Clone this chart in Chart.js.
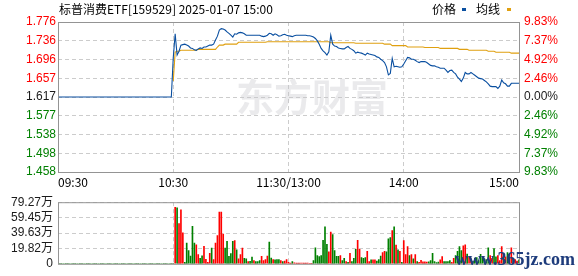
<!DOCTYPE html>
<html><head><meta charset="utf-8">
<script src="https://cdn.jsdelivr.net/npm/chart.js@4"></script>
<style>
html,body{margin:0;padding:0;background:#fff;}
#wrap{position:relative;width:578px;height:276px;overflow:hidden;background:#fff;}
canvas{position:absolute;left:0;}
#c1{top:0}
#c2{top:190px}
</style></head><body>
<div id="wrap"><canvas id="c1" width="578" height="190"></canvas><canvas id="c2" width="578" height="86"></canvas></div>
<script>
// ---------- data ----------
const titleText = '标普消费ETF[159529] 2025-01-07 15:00';
const seriesNames = ['价格', '均线'];
const prevClose = 1.617;
const priceMin = 1.458, priceMax = 1.776;
const volMax = 79.27;
const priceTickLabels = ['1.776','1.736','1.696','1.657','1.617','1.577','1.538','1.498','1.458']; // top -> bottom
const pctTickLabels = ['9.83%','7.37%','4.92%','2.46%','0.00%','2.46%','4.92%','7.37%','9.83%'];   // top -> bottom
const volTickLabels = ['79.27万','59.45万','39.63万','19.82万','0'];                                  // top -> bottom
const xTickIndex = [0, 60, 120, 180, 240];
const xTickLabels = ['09:30', '10:30', '11:30/13:00', '14:00', '15:00'];

const times = [];
(function(){
  const f = m => String(Math.floor(m/60)).padStart(2,'0') + ':' + String(m%60).padStart(2,'0');
  for (let m = 9*60+30; m <= 11*60+30; m++) times.push(f(m));
  for (let m = 13*60+1; m <= 15*60; m++) times.push(f(m));
})();

const price = [
1.617,1.617,1.617,1.617,1.617,1.617,1.617,1.617,1.617,1.617,
1.617,1.617,1.617,1.617,1.617,1.617,1.617,1.617,1.617,1.617,
1.617,1.617,1.617,1.617,1.617,1.617,1.617,1.617,1.617,1.617,
1.617,1.617,1.617,1.617,1.617,1.617,1.617,1.617,1.617,1.617,
1.617,1.617,1.617,1.617,1.617,1.617,1.617,1.617,1.617,1.617,
1.617,1.617,1.617,1.617,1.617,1.617,1.617,1.617,1.617,1.617,
1.700,1.751,1.706,1.714,1.727,1.728,1.729,1.727,1.725,1.721,
1.720,1.717,1.716,1.719,1.721,1.720,1.723,1.723,1.725,1.727,
1.727,1.729,1.738,1.746,1.759,1.762,1.761,1.759,1.755,1.752,
1.748,1.744,1.751,1.750,1.753,1.754,1.753,1.751,1.748,1.748,
1.748,1.748,1.748,1.748,1.748,1.748,1.746,1.745,1.746,1.748,
1.752,1.751,1.748,1.751,1.749,1.746,1.747,1.749,1.750,1.748,
1.747,1.746,1.745,1.747,1.748,1.748,1.748,1.748,1.748,1.748,
1.747,1.747,1.746,1.744,1.741,1.736,1.729,1.720,1.715,1.711,
1.706,1.713,1.748,1.729,1.725,1.724,1.721,1.720,1.719,1.719,
1.722,1.724,1.720,1.718,1.715,1.710,1.712,1.711,1.710,1.708,
1.706,1.710,1.708,1.707,1.706,1.705,1.702,1.701,1.697,1.694,
1.690,1.681,1.664,1.667,1.699,1.681,1.682,1.681,1.680,1.681,
1.687,1.694,1.701,1.700,1.697,1.697,1.695,1.692,1.690,1.692,
1.692,1.692,1.690,1.687,1.684,1.683,1.683,1.681,1.680,1.678,
1.678,1.678,1.674,1.669,1.673,1.674,1.669,1.666,1.659,1.655,
1.650,1.657,1.669,1.666,1.666,1.669,1.666,1.663,1.660,1.657,
1.656,1.655,1.652,1.649,1.645,1.640,1.639,1.639,1.639,1.635,
1.640,1.653,1.647,1.645,1.640,1.640,1.646,1.646,1.646,1.646,
1.646
];

const avgPrice = [
null,null,null,null,null,null,null,null,null,null,
null,null,null,null,null,null,null,null,null,null,
null,null,null,null,null,null,null,null,null,null,
null,null,null,null,null,null,null,null,null,null,
null,null,null,null,null,null,null,null,null,null,
null,null,null,null,null,null,null,null,null,null,
1.651,1.712,1.714,1.714,1.716,1.716,1.716,1.716,1.716,1.716,
1.716,1.716,1.716,1.718,1.718,1.718,1.718,1.718,1.718,1.718,
1.718,1.718,1.718,1.723,1.727,1.727,1.727,1.729,1.729,1.729,
1.729,1.729,1.729,1.729,1.733,1.733,1.733,1.733,1.733,1.733,
1.733,1.733,1.733,1.733,1.733,1.733,1.733,1.733,1.733,1.734,
1.734,1.734,1.734,1.734,1.734,1.734,1.734,1.734,1.734,1.734,
1.734,1.734,1.734,1.734,1.734,1.734,1.734,1.734,1.734,1.734,
1.734,1.734,1.734,1.734,1.734,1.734,1.734,1.734,1.734,1.734,
1.734,1.734,1.732,1.732,1.732,1.732,1.732,1.732,1.732,1.732,
1.732,1.732,1.732,1.732,1.732,1.731,1.731,1.731,1.731,1.731,
1.731,1.731,1.731,1.731,1.731,1.731,1.731,1.731,1.731,1.731,
1.729,1.729,1.729,1.729,1.726,1.726,1.726,1.726,1.726,1.726,
1.726,1.726,1.723,1.723,1.723,1.723,1.723,1.723,1.723,1.723,
1.723,1.722,1.722,1.722,1.722,1.722,1.722,1.722,1.722,1.720,
1.720,1.720,1.720,1.720,1.720,1.720,1.720,1.720,1.720,1.718,
1.718,1.718,1.718,1.718,1.716,1.716,1.716,1.716,1.716,1.716,
1.716,1.716,1.716,1.716,1.714,1.714,1.714,1.714,1.712,1.712,
1.712,1.712,1.712,1.712,1.712,1.712,1.710,1.710,1.710,1.710,
1.710
];

// volume in 万 (10k shares)
const volume = [
0,0,0,0,0,0,0,0,0,0,
0,0,0,0,0,0,0,0,0,0,
0,0,0,0,0,0,0,0,0,0,
0,0,0,0,0,0,0,0,0,0,
0,0,0,0,0,0,0,0,0,0,
0,0,0,0,0,0,0,0,0,0,
0,72.8,72.1,51.8,69.3,40,2,26.8,17.1,10,
48.2,26.8,24.3,11.8,7.1,10.4,22.5,5.7,2,13.6,
20.3,5.4,26.8,36.4,66.4,66.4,38.2,20.3,28.9,9.6,
13.2,28.9,30,17.9,6.4,11.8,20.3,7.1,6.4,2.9,
3.2,8.6,4.3,2.9,2.9,4.3,9.6,4.3,5.4,10,
27.8,7.5,5.4,5,5.4,5.4,4.3,2.9,3.6,5.4,
2,1,2.9,1.4,1,1,1,1,1,1,
1,0.7,0.7,4.3,20.7,10.7,9.3,10.7,30.3,47.5,
25,15.4,40.7,37.5,17.1,9.6,9.6,10.7,4.3,7.1,
2.9,2,13.6,2.9,7.1,18.6,30.3,18.6,7.9,7.1,
7.9,16,2.9,5,5,5,3.6,5.4,10,14.3,
16,15.4,32,33.9,42.8,47.5,24,17.9,16,1.8,
30,11.8,22,10.7,11.8,6.4,11.8,2.9,1.8,4.6,
2.5,2.5,2.1,2.5,4.3,13.6,2.9,1.5,2.1,5,
9.3,2.9,2.9,2.9,4.3,1.8,7.1,10.7,16,22,
17,23,24.3,12.5,8.9,6.4,3,7.1,7.9,4.3,
12.1,7.9,6.4,5.4,20.7,10.7,7.1,19.6,8.9,10.7,
4.3,22,8.9,8.9,14.3,8.9,20.7,7.1,5.4,3.6,
5
];
// minute direction: 1 = up (red), -1 = down (green)
const volDir = [
0,0,0,0,0,0,0,0,0,0,
0,0,0,0,0,0,0,0,0,0,
0,0,0,0,0,0,0,0,0,0,
0,0,0,0,0,0,0,0,0,0,
0,0,0,0,0,0,0,0,0,0,
0,0,0,0,0,0,0,0,0,0,
0,1,-1,1,1,1,-1,-1,-1,-1,
-1,-1,1,1,-1,-1,1,1,1,1,
-1,1,1,1,1,1,1,-1,-1,-1,
-1,-1,1,-1,1,1,1,-1,-1,1,
-1,-1,1,-1,-1,-1,1,1,1,1,
-1,-1,1,-1,-1,-1,1,-1,1,1,
1,1,-1,1,1,1,1,1,1,1,
1,1,1,-1,-1,-1,-1,-1,-1,-1,
-1,1,1,-1,-1,-1,-1,1,-1,-1,
1,-1,1,-1,-1,-1,1,1,-1,-1,
-1,1,1,-1,1,1,-1,-1,-1,1,
1,-1,-1,-1,1,-1,1,-1,1,-1,
1,1,1,-1,1,-1,1,-1,1,1,
1,1,1,-1,-1,-1,-1,-1,-1,1,
1,-1,-1,-1,-1,1,1,-1,-1,-1,
-1,1,1,-1,1,1,-1,-1,-1,-1,
-1,-1,-1,-1,-1,1,1,-1,-1,1,
1,1,-1,1,-1,-1,1,-1,1,1,
-1
];

// ---------- styles ----------
const COL = {up:'#ff0000', down:'#008000', flat:'#1a1a1a', price:'#0a4fa0', avg:'#e0a010',
             grid:'#cccccc', frame:'#949494', text:'#000000'};
const LAT = '"Liberation Sans", "Noto Sans CJK SC", sans-serif';
const CJK = '"Noto Sans CJK SC", sans-serif';
Chart.defaults.font.family = LAT;
Chart.defaults.font.size = 12;

const framePlugin = {
  id: 'frame',
  afterDraw(ch) {
    const a = ch.chartArea, c = ch.ctx;
    c.save();
    c.strokeStyle = COL.frame; c.lineWidth = 1;
    c.strokeRect(a.left + 0.5, a.top + 0.5, a.right - a.left, a.bottom - a.top);
    c.restore();
  }
};

const priceColor = ctx => {
  const k = ctx.index, mid = (priceTickLabels.length - 1) / 2;
  return k > mid ? COL.up : (k < mid ? COL.down : COL.flat);
};
const evenTicks = (min, max, n) => s => {
  s.ticks = [];
  for (let k = 0; k < n; k++) s.ticks.push({value: min + (max - min) * k / (n - 1)});
};

const mainDeco = {
  id: 'mainDeco',
  beforeDatasetsDraw(ch) {
    const c = ch.ctx;
    c.save();
    c.fillStyle = 'rgba(200,200,204,0.38)';
    c.font = 'bold 38px ' + CJK;
    c.textBaseline = 'middle';
    c.fillText('东方财富', 236, 97);
    c.restore();
  },
  afterDraw(ch) {
    const c = ch.ctx;
    c.save();
    c.textBaseline = 'middle';
    c.fillStyle = COL.text;
    c.font = '12px ' + CJK;
    c.fillText(titleText, 59, 9);
    c.fillText(seriesNames[0], 432, 9);
    c.fillText(seriesNames[1], 476, 9);
    c.fillStyle = COL.price; c.fillRect(462, 8, 4, 3);
    c.fillStyle = COL.avg; c.fillRect(507, 8, 4, 3);
    c.restore();
  }
};

new Chart(document.getElementById('c1'), {
  type: 'line',
  data: {
    labels: times,
    datasets: [
      {label: seriesNames[0], data: price, borderColor: COL.price, borderWidth: 1.1, pointRadius: 0, tension: 0, order: 0},
      {label: seriesNames[1], data: avgPrice, borderColor: COL.avg, borderWidth: 1.1, pointRadius: 0, tension: 0, order: 1}
    ]
  },
  options: {
    responsive: false, animation: false, devicePixelRatio: 1,
    layout: {padding: {top: 22, left: 0, right: 0, bottom: 0}},
    plugins: {legend: {display: false}, tooltip: {enabled: false}},
    scales: {
      x: {
        type: 'category', offset: false,
        afterBuildTicks: s => { s.ticks = xTickIndex.map(v => ({value: v})); },
        afterFit: s => { s.height = 18; },
        ticks: {autoSkip: false, maxRotation: 0, minRotation: 0, align: 'inner', padding: 3,
                color: COL.text, font: {family: CJK, size: 12},
                callback: (v, i) => xTickLabels[i]},
        grid: {color: COL.grid, drawTicks: false, offset: false},
        border: {display: false, dash: [4, 3]}
      },
      y: {
        position: 'left', min: priceMin, max: priceMax, bounds: 'data',
        afterBuildTicks: evenTicks(priceMin, priceMax, priceTickLabels.length),
        afterFit: s => { s.width = 58; },
        ticks: {autoSkip: false, padding: 2, color: priceColor, font: {size: 12},
                callback: (v, i) => priceTickLabels[priceTickLabels.length - 1 - i]},
        grid: {color: COL.grid, drawTicks: false},
        border: {display: false, dash: [4, 3]}
      },
      y2: {
        position: 'right', min: priceMin, max: priceMax, bounds: 'data',
        afterBuildTicks: evenTicks(priceMin, priceMax, pctTickLabels.length),
        afterFit: s => { s.width = 59; },
        ticks: {autoSkip: false, padding: 5, color: priceColor, font: {size: 12},
                callback: (v, i) => pctTickLabels[pctTickLabels.length - 1 - i]},
        grid: {display: false, drawTicks: false},
        border: {display: false}
      }
    }
  },
  plugins: [framePlugin, mainDeco]
});

const volDeco = {
  id: 'volDeco',
  afterDraw(ch) {
    const c = ch.ctx;
    c.save();
    c.fillStyle = '#1e3c7c';
    c.font = 'bold 18px "Liberation Serif", serif';
    c.textBaseline = 'middle';
    c.fillText('www.365jz.com', 455, 70);
    c.restore();
  }
};

new Chart(document.getElementById('c2'), {
  type: 'bar',
  data: {
    labels: times,
    datasets: [{
      data: volume,
      backgroundColor: volDir.map(d => d > 0 ? COL.up : COL.down),
      borderWidth: 0, barThickness: 1
    }]
  },
  options: {
    responsive: false, animation: false, devicePixelRatio: 1,
    layout: {padding: {top: 6, left: 0, right: 59, bottom: 0}},
    plugins: {legend: {display: false}, tooltip: {enabled: false}},
    scales: {
      x: {
        type: 'category', offset: false,
        afterBuildTicks: s => { s.ticks = xTickIndex.map(v => ({value: v})); },
        afterFit: s => { s.height = 6; },
        ticks: {display: false, autoSkip: false},
        grid: {color: COL.grid, drawTicks: false, offset: false},
        border: {display: false, dash: [4, 3]}
      },
      y: {
        position: 'left', min: 0, max: volMax, bounds: 'data',
        afterBuildTicks: evenTicks(0, volMax, volTickLabels.length),
        afterFit: s => { s.width = 58; },
        ticks: {autoSkip: false, padding: 5, color: '#1a1a1a', font: {size: 12},
                callback: (v, i) => volTickLabels[volTickLabels.length - 1 - i]},
        grid: {color: COL.grid, drawTicks: false},
        border: {display: false, dash: [4, 3]}
      }
    }
  },
  plugins: [framePlugin, volDeco]
});
</script>
</body></html>
